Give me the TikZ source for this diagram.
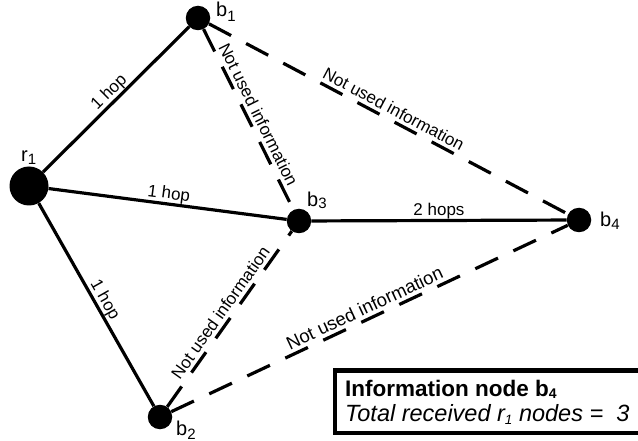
\documentclass[tikz,border=0pt]{standalone}
\usepackage{fontspec}
\setmainfont{Liberation Sans}
% base letter followed by a lowered index
\newcommand{\nodeidx}[3]{#1\raisebox{-#3}{\fontsize{15}{15}\selectfont #2}}

\begin{document}
\begin{tikzpicture}[x=1pt,y=-1pt,
  vertex/.style={circle, fill=black, inner sep=0pt, minimum size=24.5pt},
  rootvertex/.style={circle, fill=black, inner sep=0pt, minimum size=39pt},
  vlabel/.style={anchor=base west, inner sep=0pt, font=\fontsize{20}{20}\selectfont},
  hopline/.style={line width=3.2pt},
  unusedline/.style={line width=3.2pt, dash pattern=on 25pt off 17pt},
  edgelabel/.style={midway, above, sloped, text depth=0pt, inner sep=3.5pt, font=\fontsize{17}{17}\selectfont},
  boxtext/.style={anchor=base west, inner sep=0pt},
]
\useasboundingbox (0,0) rectangle (638,441);
\fill[white] (0,0) rectangle (638,441);

% vertices
\node[rootvertex] (r1) at (29,186) {};
\node[vertex] (b1) at (198,18) {};
\node[vertex] (b3) at (299,221) {};
\node[vertex] (b4) at (579,220) {};
\node[vertex] (b2) at (160,417) {};

% vertex names
\node[vlabel] (lr1) at (21,161.7) {\nodeidx{r}{1}{3pt}};
\node[vlabel] (lb1) at (216,16.7) {\nodeidx{b}{1}{5pt}};
\node[vlabel] (lb3) at (307,206.7) {\nodeidx{b}{3}{2pt}};
\node[vlabel] (lb4) at (600,227) {\nodeidx{b}{4}{3pt}};
\node[vlabel] (lb2) at (176,435) {\nodeidx{b}{2}{4pt}};

% hops actually used
\draw[hopline] (r1) -- node[edgelabel] {1 hop} (b1);
\draw[hopline] (r1) -- node[edgelabel] {1 hop} (b3);
\draw[hopline] (r1) -- node[edgelabel] {1 hop} (b2);
\draw[hopline] (b3) -- node[edgelabel] {2 hops} (b4);

% links whose information is ignored
\draw[unusedline] (b1) -- node[edgelabel] {Not used information} (b3);
\draw[unusedline] (b1) -- node[edgelabel] {Not used information} (b4);
\draw[unusedline] (b2) -- node[edgelabel] {Not used information} (b3);
\draw[unusedline] (b2) -- node[edgelabel, font=\fontsize{18.5}{18.5}\selectfont] {Not used information} (b4);

% summary box
\draw[line width=4.8pt, fill=white] (335,370.5) rectangle (650,433);
\node[boxtext, font=\bfseries\fontsize{22.5}{22.5}\selectfont] (infotitle) at (345,396.7)
  {Information node b\raisebox{-1.5pt}{\fontsize{14}{14}\selectfont 4}};
\node[boxtext, font=\itshape\fontsize{23.5}{23.5}\selectfont] (infocount) at (345,421.7)
  {Total received r\raisebox{-3pt}{\fontsize{13.5}{13.5}\selectfont 1} nodes =\ \ 3};
\end{tikzpicture}
\end{document}
